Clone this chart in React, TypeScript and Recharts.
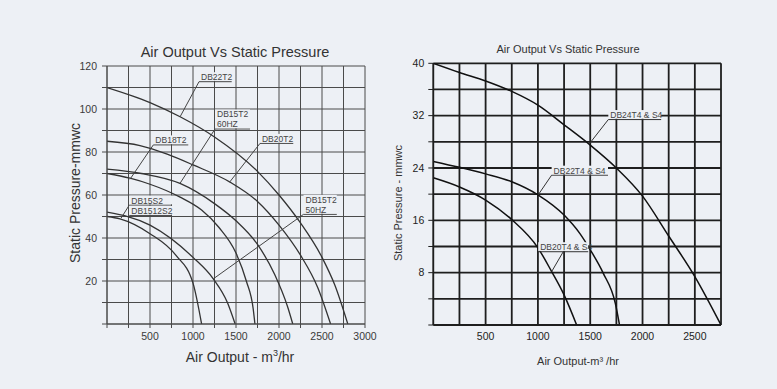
import React from "react";
import { LineChart, Line, XAxis, YAxis, CartesianGrid, ReferenceLine } from "recharts";

const BG = "#edf0f5";
const FONT = "'Liberation Sans', Arial, Helvetica, sans-serif";

// ---- left chart: Air Output (m3/hr) vs Static Pressure (mmwc) ----
const leftXTicks = [0, 250, 500, 750, 1000, 1250, 1500, 1750, 2000, 2250, 2500, 2750, 3000];
const leftXLabels = [500, 1000, 1500, 2000, 2500, 3000];
const leftYTicks = [0, 10, 20, 30, 40, 50, 60, 70, 80, 90, 100, 110, 120];
const leftYLabels = [20, 40, 60, 80, 100, 120];

const db22t2 = [[0, 110], [500, 103], [850, 96.4], [1250, 87], [1750, 71], [2000, 60], [2250, 47], [2500, 31], [2650, 18], [2800, 0]];
const db20t2 = [[0, 85], [384, 83], [700, 79], [1000, 74], [1430, 66], [1750, 57], [2000, 46], [2250, 32], [2450, 17], [2600, 0]];
const db15t2_60 = [[0, 72], [400, 70], [849, 65.4], [1250, 56], [1500, 48], [1750, 37], [1950, 23], [2100, 8], [2160, 0]];
const db18t2 = [[0, 70], [267, 67.8], [500, 65], [850, 59], [1100, 53], [1300, 45], [1500, 33], [1620, 20], [1700, 7], [1720, 0]];
const db15t2_50 = [[0, 52], [500, 46], [1000, 31], [1236, 21], [1400, 10], [1490, 0]];
const db15s2 = [[0, 50], [151, 48.9], [500, 42], [800, 32], [1000, 19], [1100, 0]];

const leftSeries = [db22t2, db20t2, db15t2_60, db18t2, db15t2_50, db15s2];

// labels: text lines, curve point, where the leader meets the underline, underline end
const leftNotes = [
  { text: ["DB22T2"], tip: [850, 96.4], at: [1070, 112.7], end: 1450 },
  { text: ["DB15T2", "60HZ"], tip: [849, 65.4], at: [1256, 90.7], end: 1663 },
  { text: ["DB18T2"], tip: [267, 67.3], at: [539, 83.3], end: 945 },
  { text: ["DB20T2"], tip: [1430, 66.2], at: [1779, 84], end: 2166 },
  { text: ["DB15S2"], tip: [163, 49.2], at: [259, 55.3], end: 756 },
  { text: ["DB1512S2"], tip: null, at: [259, 50.5], end: 756 },
  { text: ["DB15T2", "50HZ"], tip: [1236, 21], at: [2285, 51], end: 2672 },
];

// ---- right chart ----
const rightXTicks = [0, 250, 500, 750, 1000, 1250, 1500, 1750, 2000, 2250, 2500, 2750];
const rightXLabels = [500, 1000, 1500, 2000, 2500];
const rightYTicks = [0, 4, 8, 12, 16, 20, 24, 28, 32, 36, 40];
const rightYLabels = [8, 16, 24, 32, 40];

const db24t4 = [[0, 40], [250, 38.6], [500, 37.3], [750, 35.7], [1000, 33.6], [1250, 30.6], [1500, 27.5], [1750, 24], [2000, 19.7], [2250, 13.6], [2500, 7.4], [2750, 0]];
const db22t4 = [[0, 25], [250, 24.1], [500, 23.1], [750, 21.9], [1000, 19.9], [1250, 16.8], [1400, 14], [1500, 11.5], [1625, 7.9], [1740, 3.3], [1780, 0]];
const db20t4 = [[0, 22.5], [250, 21.1], [500, 19.1], [750, 16.1], [1000, 11.8], [1130, 8.2], [1250, 4.6], [1370, 0]];

const rightSeries = [db24t4, db22t4, db20t4];

const rightNotes = [
  { text: ["DB24T4 & S4"], tip: [1497, 27.8], at: [1673, 31.4], start: 1673, end: 2178 },
  { text: ["DB22T4 & S4"], tip: [1003, 19.9], at: [1131, 22.9], start: 1131, end: 1670 },
  { text: ["DB20T4 & S4"], tip: [1131, 8.15], at: [1242, 11.2], start: 1003, end: 1481 },
];

const toPts = (arr: number[][]) => arr.map(([x, y]) => ({ x, y }));

function noteLabel(lines: string[], fs: number) {
  return (props: any) => {
    const vb = props.viewBox || {};
    const x = vb.x ?? 0;
    const y = vb.y ?? 0;
    const w = vb.width ?? 0;
    const lh = fs + 1.5;
    const top = y - lines.length * lh + 0.5;
    return (
      <g>
        <rect x={x} y={top} width={w} height={y - top - 0.8} fill={BG} />
        {lines.map((t, i) => (
          <text key={i} x={x + 2} y={y - 1.5 - (lines.length - 1 - i) * lh} fontSize={fs} fill="#444" fontFamily={FONT}>
            {t}
          </text>
        ))}
      </g>
    );
  };
}

function renderNotes(notes: any[], fs: number, color: string) {
  const out: any[] = [];
  notes.forEach((n, i) => {
    const start = n.start ?? n.at[0];
    if (n.tip) {
      out.push(
        <ReferenceLine key={"l" + i} segment={[{ x: n.tip[0], y: n.tip[1] }, { x: n.at[0], y: n.at[1] }]} stroke={color} strokeWidth={1} ifOverflow="visible" />
      );
    }
    out.push(
      <ReferenceLine
        key={"u" + i}
        segment={[{ x: start, y: n.at[1] }, { x: n.end, y: n.at[1] }]}
        stroke={color}
        strokeWidth={1}
        ifOverflow="visible"
        label={noteLabel(n.text, fs)}
      />
    );
  });
  return out;
}

function LeftChart() {
  return (
    <LineChart width={380} height={389} margin={{ top: 66, right: 15, bottom: 35, left: 0 }}>
      <CartesianGrid stroke="#4a4a4a" strokeWidth={1} />
      <XAxis
        type="number"
        dataKey="x"
        domain={[0, 3000]}
        ticks={leftXTicks}
        interval={0}
        allowDataOverflow
        height={30}
        tickFormatter={(v: number) => (leftXLabels.includes(v) ? String(v) : "")}
        tick={{ fontSize: 10.5, fill: "#3a3a3a", fontFamily: FONT }}
        tickSize={4}
        tickMargin={5}
        stroke="#4a4a4a"
      />
      <YAxis
        type="number"
        dataKey="y"
        domain={[0, 120]}
        ticks={leftYTicks}
        interval={0}
        allowDataOverflow
        width={107}
        tickFormatter={(v: number) => (leftYLabels.includes(v) ? String(v) : "")}
        tick={{ fontSize: 10.5, fill: "#3a3a3a", fontFamily: FONT }}
        tickSize={5}
        tickMargin={5}
        stroke="#4a4a4a"
      />
      {leftSeries.map((s, i) => (
        <Line key={i} data={toPts(s)} dataKey="y" type="monotone" stroke="#333" strokeWidth={1.3} dot={false} activeDot={false} isAnimationActive={false} />
      ))}
      {renderNotes(leftNotes, 8.5, "#444")}
    </LineChart>
  );
}

function RightChart() {
  return (
    <LineChart width={345} height={389} margin={{ top: 63.3, right: 14, bottom: 34, left: 0 }}>
      <CartesianGrid stroke="#1e1e1e" strokeWidth={1.8} />
      <XAxis
        type="number"
        dataKey="x"
        domain={[0, 2750]}
        ticks={rightXTicks}
        interval={0}
        allowDataOverflow
        height={30}
        tickFormatter={(v: number) => (rightXLabels.includes(v) ? String(v) : "")}
        tick={{ fontSize: 10.5, fill: "#222", fontFamily: FONT }}
        tickSize={0}
        tickMargin={8}
        stroke="#1e1e1e"
      />
      <YAxis
        type="number"
        dataKey="y"
        domain={[0, 40]}
        ticks={rightYTicks}
        interval={0}
        allowDataOverflow
        width={43.3}
        tickFormatter={(v: number) => (rightYLabels.includes(v) ? String(v) : "")}
        tick={{ fontSize: 10.5, fill: "#222", fontFamily: FONT }}
        tickSize={5}
        tickMargin={4}
        stroke="#1e1e1e"
      />
      {rightSeries.map((s, i) => (
        <Line key={i} data={toPts(s)} dataKey="y" type="monotone" stroke="#111" strokeWidth={1.5} dot={false} activeDot={false} isAnimationActive={false} />
      ))}
      {renderNotes(rightNotes, 8.5, "#333")}
    </LineChart>
  );
}

export default function App() {
  return (
    <div style={{ position: "absolute", left: 0, top: 0, width: 777, height: 389, background: BG, fontFamily: FONT, overflow: "hidden" }}>
      <div style={{ position: "absolute", left: 0, top: 0 }}>
        <LeftChart />
      </div>
      <div style={{ position: "absolute", left: 390, top: 0 }}>
        <RightChart />
      </div>
      <svg width={777} height={389} style={{ position: "absolute", left: 0, top: 0, pointerEvents: "none" }}>
        <g fontFamily={FONT} fill="#333">
          <text x={235} y={57} fontSize={14.5} textAnchor="middle">Air Output Vs Static Pressure</text>
          <text x={80} y={193} fontSize={14} textAnchor="middle" transform="rotate(-90 80 193)">Static Pressure-mmwc</text>
          <text x={240} y={361.5} fontSize={14} textAnchor="middle">
            Air Output - m<tspan fontSize={9} dy={-6}>3</tspan><tspan dy={6}>/hr</tspan>
          </text>
          <text x={568} y={53} fontSize={11} textAnchor="middle">Air Output Vs Static Pressure</text>
          <text x={402} y={203} fontSize={11} textAnchor="middle" transform="rotate(-90 402 203)">Static Pressure - mmwc</text>
          <text x={578} y={364.5} fontSize={11} textAnchor="middle">Air Output-m³ /hr</text>
        </g>
      </svg>
    </div>
  );
}
